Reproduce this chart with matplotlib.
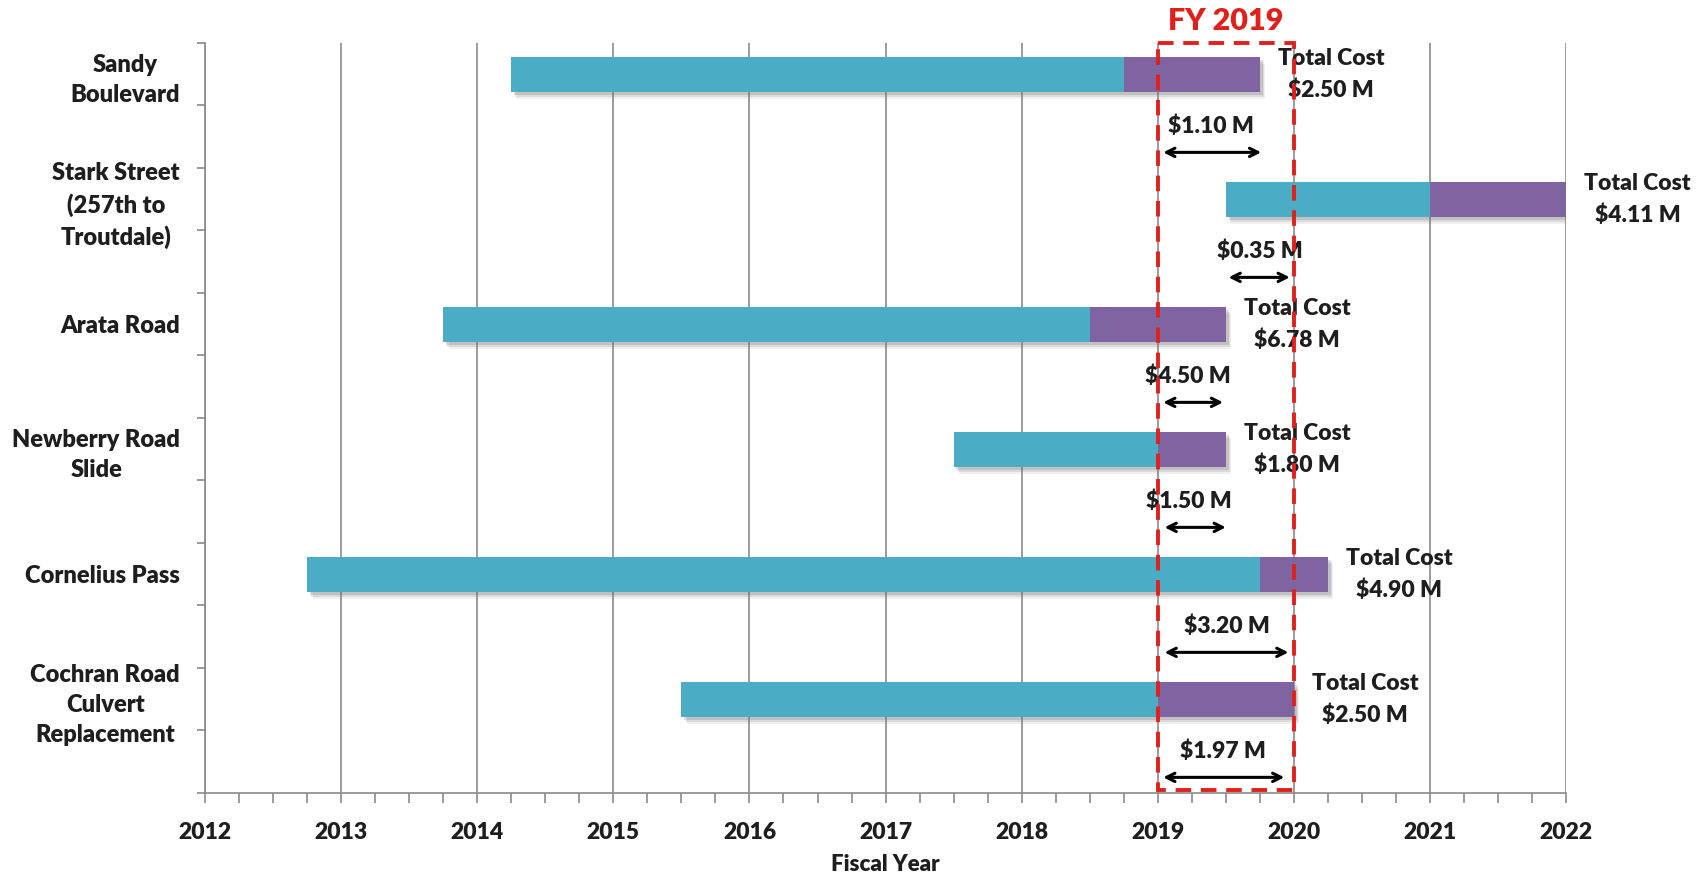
import matplotlib
matplotlib.use("Agg")
import matplotlib.pyplot as plt
import matplotlib.patheffects as pe
from matplotlib.patches import Rectangle
from matplotlib.ticker import MultipleLocator, FixedLocator

plt.rcParams["font.family"] = ["Lato", "DejaVu Sans"]
plt.rcParams["font.weight"] = "heavy"
plt.rcParams["axes.labelweight"] = "heavy"

# project schedule (fiscal years) and costs, top to bottom
projects = [
    "Sandy\nBoulevard",
    "Stark Street\n(257th to\nTroutdale)",
    "Arata Road",
    "Newberry Road\nSlide",
    "Cornelius Pass",
    "Cochran Road\nCulvert\nReplacement",
]
start_fy = [2014.25, 2019.5, 2013.75, 2017.5, 2012.75, 2015.5]
current_fy = [2018.75, 2021.0, 2018.5, 2019.0, 2019.75, 2019.0]
end_fy = [2019.75, 2022.0, 2019.5, 2019.5, 2020.25, 2020.0]
total_cost = [2.50, 4.11, 6.78, 1.80, 4.90, 2.50]

# FY 2019 spend per project and the span its arrow covers
fy19_cost = [1.10, 0.35, 4.50, 1.50, 3.20, 1.97]
fy19_from = [2019.04, 2019.52, 2019.04, 2019.05, 2019.05, 2019.04]
fy19_to = [2019.76, 2019.97, 2019.48, 2019.50, 2019.96, 2019.93]
fy19_label_x = [2019.39, 2019.75, 2019.22, 2019.23, 2019.51, 2019.48]

years = list(range(2012, 2023))
highlight_fy = (2019, 2020)

CYAN = "#4bacc6"
PURPLE = "#8064a2"
RED = "#e0201b"
GRID = "#8a8a8a"
TEXT = "#1e1e1e"

fig = plt.figure(figsize=(17.03, 8.74), dpi=100)
ax = fig.add_axes([0.1204, 0.0927, 0.7992, 0.8581])

rows = [0.5 + 2 * i for i in range(len(projects))]
shadow = [
    pe.SimplePatchShadow(offset=(4, -5), shadow_rgbFace="#8a8a8a", alpha=0.12),
    pe.SimplePatchShadow(offset=(3, -4), shadow_rgbFace="#7a7a7a", alpha=0.18),
    pe.SimplePatchShadow(offset=(2, -2), shadow_rgbFace="#6a6a6a", alpha=0.22),
    pe.Normal(),
]
bar_h = 0.56
ax.barh(rows, [c - s for s, c in zip(start_fy, current_fy)], left=start_fy,
        height=bar_h, color=CYAN, path_effects=shadow, zorder=2)
ax.barh(rows, [e - c for c, e in zip(current_fy, end_fy)], left=current_fy,
        height=bar_h, color=PURPLE, path_effects=shadow, zorder=2)

for y, e, tc in zip(rows, end_fy, total_cost):
    ax.annotate(f"Total Cost\n${tc:.2f} M", xy=(e, y), xytext=(13, 0),
                textcoords="offset points", ha="left", va="center",
                multialignment="center", fontsize=16.5, color=TEXT,
                linespacing=1.6, zorder=3, annotation_clip=False)

for y, x0, x1, lx, c in zip(rows, fy19_from, fy19_to, fy19_label_x, fy19_cost):
    ay = y + 1.25
    ax.annotate("", xy=(x1, ay), xytext=(x0, ay),
                arrowprops=dict(arrowstyle="<->,head_length=0.6,head_width=0.3",
                                color="black", lw=2.2, shrinkA=0, shrinkB=0),
                zorder=4)
    ax.text(lx, y + 0.84, f"${c:.2f} M", ha="center", va="center",
            fontsize=16.5, color=TEXT, zorder=3)

# FY 2019 window
ax.add_patch(Rectangle((highlight_fy[0], 0.0), highlight_fy[1] - highlight_fy[0], 11.95,
                       fill=False, edgecolor=RED, lw=2.8, linestyle=(0, (4, 2.5)),
                       zorder=5, clip_on=False))
ax.text(sum(highlight_fy) / 2, -0.36, "FY 2019", ha="center", va="center",
        fontsize=22, color=RED, zorder=5)

ax.set_xlim(years[0], years[-1])
ax.set_ylim(12, 0)
ax.set_xticks(years)
ax.set_xticklabels([str(y) for y in years])
ax.xaxis.set_minor_locator(MultipleLocator(0.25))
ax.grid(axis="x", which="major", color=GRID, lw=1.2, zorder=1)
ax.set_axisbelow(True)

ax.yaxis.set_major_locator(MultipleLocator(1))
ax.yaxis.set_major_formatter(plt.NullFormatter())
ax.yaxis.set_minor_locator(FixedLocator(rows))
ax.set_yticklabels(projects, minor=True)
for lbl in ax.get_yticklabels(minor=True):
    lbl.set_multialignment("center")
    lbl.set_linespacing(1.45)

ax.tick_params(axis="x", which="both", direction="out", length=7, width=1.2,
               color=GRID, labelsize=16.5, labelcolor=TEXT, pad=14)
ax.tick_params(axis="y", which="major", direction="out", length=6, width=1.2, color=GRID)
ax.tick_params(axis="y", which="minor", length=0, labelsize=17, labelcolor=TEXT, pad=18)

for side in ("top", "right"):
    ax.spines[side].set_visible(False)
for side in ("left", "bottom"):
    ax.spines[side].set_color(GRID)
    ax.spines[side].set_linewidth(1.2)

ax.set_xlabel("Fiscal Year", fontsize=16, color=TEXT, labelpad=8)

fig.savefig("out.png", dpi=100, facecolor="white")
